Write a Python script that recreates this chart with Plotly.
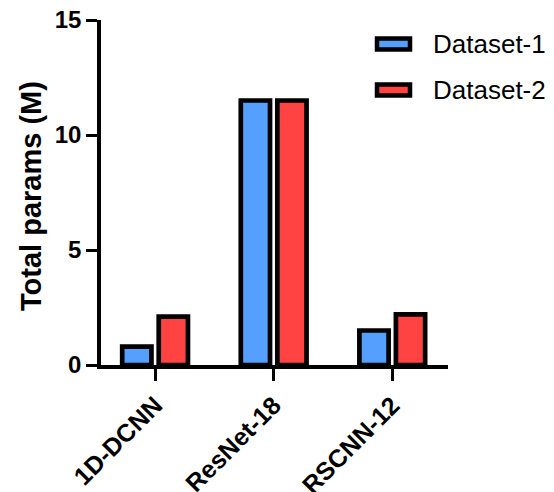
import plotly.graph_objects as go

categories = ["1D-DCNN", "ResNet-18", "RSCNN-12"]
dataset1 = [0.8, 11.5, 1.5]
dataset2 = [2.1, 11.5, 2.2]
series_names = ["Dataset-1", "Dataset-2"]
colors = ["#559FFF", "#FF4242"]
yticks = [0, 5, 10, 15]

FONT = "Arial, Liberation Sans, sans-serif"
OFF = 8  # default page body margin
PAGE_W, PAGE_H = 554, 492
AX_L, AX_R, AX_T, AX_B = 101, 448, 20, 365  # plot area in page pixels
W, H = PAGE_W - OFF, PAGE_H - OFF
L, T = AX_L - OFF, AX_T - OFF
R, B = PAGE_W - AX_R, PAGE_H - AX_B
pw, ph = AX_R - AX_L, AX_B - AX_T

def px_x(p):
    return (p - AX_L) / pw

def px_y(p):
    return (AX_B - p) / ph

fig = go.Figure()
for name, vals, col in zip(series_names, [dataset1, dataset2], colors):
    fig.add_trace(go.Bar(
        x=categories, y=vals, name=name,
        marker=dict(color=col, line=dict(color="black", width=4.7)),
        showlegend=False,
    ))

# custom legend
leg_y = [44, 90]
for i, (name, col) in enumerate(zip(series_names, colors)):
    cy = leg_y[i]
    fig.add_shape(type="rect", xref="paper", yref="paper",
                  x0=px_x(377), x1=px_x(410), y0=px_y(cy + 5.5), y1=px_y(cy - 5.5),
                  fillcolor=col, line=dict(color="black", width=4.5))
    fig.add_annotation(xref="paper", yref="paper", x=px_x(431), y=px_y(cy),
                       text=name, showarrow=False, xanchor="left", yanchor="middle",
                       font=dict(family=FONT, size=26, color="black"))

# y-axis title
fig.add_annotation(xref="paper", yref="paper", x=px_x(31), y=px_y(196),
                   text="Total params (M)", showarrow=False, textangle=-90,
                   xanchor="center", yanchor="middle",
                   font=dict(family=FONT, size=29, color="black", weight="bold"))

fig.update_layout(
    width=W, height=H,
    margin=dict(l=L, r=R, t=T, b=B, pad=0),
    paper_bgcolor="white", plot_bgcolor="white",
    barmode="group", bargap=0.384, bargroupgap=0.2,
    font=dict(family=FONT, color="black"),
    showlegend=False,
)
fig.update_xaxes(
    range=[-0.456, 2.47], automargin=False, ticklabeloverflow="allow",
    showline=True, linecolor="black", linewidth=3.5,
    ticks="outside", ticklen=12, tickwidth=3, tickcolor="black",
    tickangle=-45,
    tickfont=dict(family=FONT, size=25, color="black", weight="bold"),
    showgrid=False, zeroline=False,
)
fig.update_yaxes(
    range=[0, 15], tickvals=yticks, automargin=False, ticklabeloverflow="allow",
    showline=True, linecolor="black", linewidth=3.5,
    ticks="outside", ticklen=11, tickwidth=3, tickcolor="black",
    tickfont=dict(family=FONT, size=24, color="black", weight="bold"),
    showgrid=False, zeroline=False,
)

fig.write_html("out.html")
